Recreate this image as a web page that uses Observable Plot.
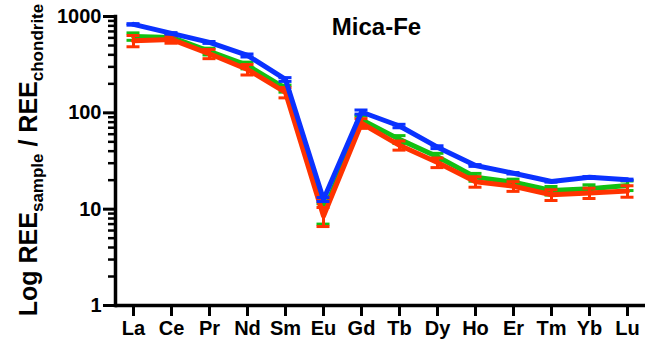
<!DOCTYPE html>
<html>
<head>
<meta charset="utf-8">
<script src="https://cdn.jsdelivr.net/npm/d3@7"></script>
<script src="https://cdn.jsdelivr.net/npm/@observablehq/plot@0.6"></script>
<style>
  html, body { margin: 0; padding: 0; background: #fff; }
  #chart { width: 650px; height: 346px; }
</style>
</head>
<body>
<div id="chart"></div>
<script>
const elements = ["La","Ce","Pr","Nd","Sm","Eu","Gd","Tb","Dy","Ho","Er","Tm","Yb","Lu"];
const yTicks = [1, 10, 100, 1000];
const seriesNames = ["green", "red", "blue"];
const seriesColors = ["#12c012", "#ff3300", "#0a32ff"];

const greenValues = [621, 607, 434, 311, 179, 9.2, 85, 53, 35, 21.5, 19, 15.6, 16.3, 17.6];
const greenSD     = [55, 40, 35, 25, 15, 2.2, 8, 5, 3, 2, 1.5, 1.6, 1.6, 2.0];
const redValues   = [560, 578, 410, 282, 163, 8.5, 78, 46, 30.5, 19.3, 17.3, 14.1, 14.7, 15.4];
const redSD       = [75, 50, 45, 35, 20, 1.9, 9, 5, 3.5, 2.4, 2, 1.8, 1.8, 2.1];
const blueValues  = [828, 668, 538, 394, 222, 12.6, 102, 73, 44, 28.4, 23.6, 19.4, 21.5, 20.2];
const blueSD      = [15, 12, 12, 14, 10, 0.6, 5, 3, 1.5, 0.6, 0.4, 0.3, 0.3, 0.3];

const valueSets = [greenValues, redValues, blueValues];
const sdSets = [greenSD, redSD, blueSD];

const rows = [];
seriesNames.forEach((s, i) => {
  elements.forEach((el, j) => {
    rows.push({series: s, el, value: valueSets[i][j], sd: sdSets[i][j]});
  });
});

const minorTicks = [];
for (let e = 1; e <= 100; e *= 10) for (let k = 2; k <= 9; k++) minorTicks.push(k * e);

const marks = [];
seriesNames.forEach((s, i) => {
  const d = rows.filter(r => r.series === s);
  const c = seriesColors[i];
  marks.push(Plot.ruleX(d, {x: "el", y1: r => r.value - r.sd, y2: r => r.value + r.sd, stroke: c, strokeWidth: 3}));
  marks.push(Plot.ruleY(d, {x1: "el", x2: "el", y: r => r.value - r.sd, stroke: c, strokeWidth: 3, insetLeft: -6.5, insetRight: -6.5}));
  marks.push(Plot.ruleY(d, {x1: "el", x2: "el", y: r => r.value + r.sd, stroke: c, strokeWidth: 3, insetLeft: -6.5, insetRight: -6.5}));
  marks.push(Plot.line(d, {x: "el", y: "value", stroke: c, strokeWidth: 5, strokeLinejoin: "round", strokeLinecap: "round"}));
});

const chart = Plot.plot({
  width: 650,
  height: 346,
  marginLeft: 115,
  marginRight: 5,
  marginTop: 16,
  marginBottom: 41,
  style: {fontFamily: "'Liberation Sans', Arial, sans-serif", fontWeight: "bold", color: "#000", background: "#fff"},
  x: {type: "point", domain: elements, range: [133, 627], padding: 0, label: null},
  y: {type: "log", domain: [1, 1000], range: [305, 16], label: null},
  marks: [
    ...marks,
    Plot.ruleY([1], {stroke: "#000", strokeWidth: 3.5}),
    Plot.frame({anchor: "left", stroke: "#000", strokeWidth: 3.5}),
    Plot.axisY({ticks: minorTicks, tickSize: 7, strokeWidth: 2.5, tickFormat: () => "", stroke: "#000"}),
    Plot.axisY({ticks: yTicks, tickSize: 12, strokeWidth: 3, tickPadding: 2, tickFormat: d => String(d), fontSize: 20, fontWeight: "bold", stroke: "#000", fill: "#000"}),
    Plot.axisX({tickSize: 11, strokeWidth: 3, tickPadding: 4, fontSize: 20, fontWeight: "bold", stroke: "#000", fill: "#000"}),
    Plot.text(["Mica-Fe"], {frameAnchor: "top", dx: -4, dy: 1, lineAnchor: "top", fontSize: 24, fontWeight: "bold", fill: "#000"})
  ]
});

const svg = d3.select(chart);
const label = svg.append("text")
  .attr("transform", "translate(37,160) rotate(-90)")
  .attr("text-anchor", "middle")
  .attr("font-family", "'Liberation Sans', Arial, sans-serif")
  .attr("font-weight", "bold")
  .attr("font-size", 25)
  .attr("fill", "#000");
label.append("tspan").text("Log REE");
label.append("tspan").attr("font-size", 17).attr("dy", 6).text("sample");
label.append("tspan").attr("dy", -6).text(" / REE");
label.append("tspan").attr("font-size", 17).attr("dy", 6).text("chondrite");

document.getElementById("chart").appendChild(chart);
</script>
</body>
</html>
